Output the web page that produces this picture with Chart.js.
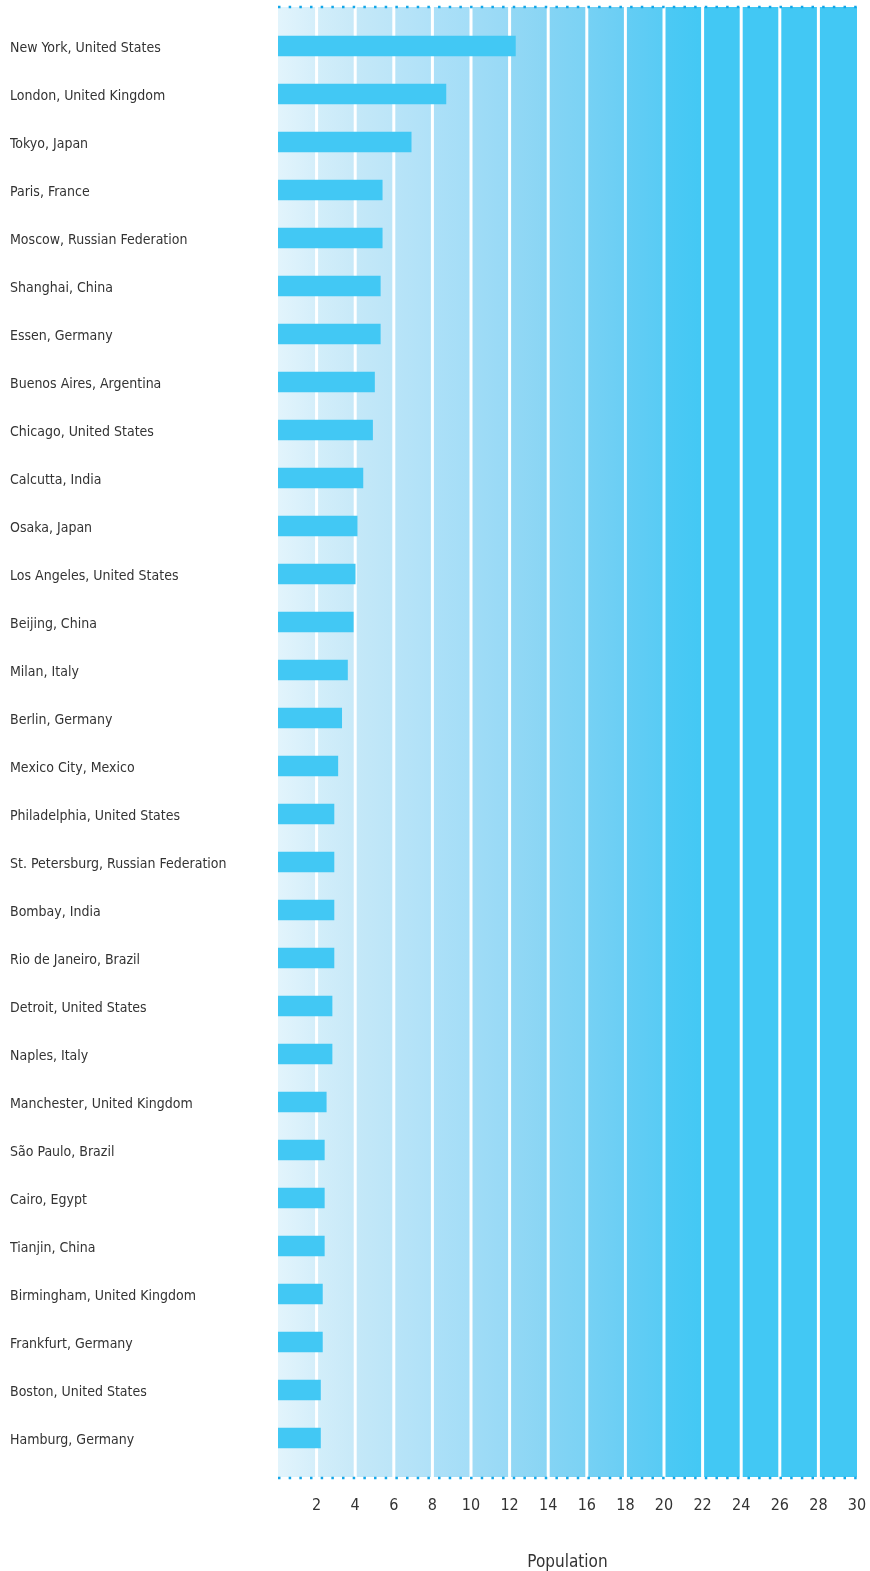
<!DOCTYPE html>
<html>
<head>
<meta charset="utf-8">
<script src="https://cdn.jsdelivr.net/npm/chart.js@4"></script>
<style>
  html, body { margin: 0; padding: 0; background: #fff; }
  #wrap { width: 870px; height: 1571px; position: relative; }
</style>
</head>
<body>
<div id="wrap"><canvas id="chart"></canvas></div>
<script>
// ----------------------------
// DATA
// ----------------------------
const cities = [
  'New York, United States', 'London, United Kingdom', 'Tokyo, Japan', 'Paris, France',
  'Moscow, Russian Federation', 'Shanghai, China', 'Essen, Germany', 'Buenos Aires, Argentina',
  'Chicago, United States', 'Calcutta, India', 'Osaka, Japan', 'Los Angeles, United States',
  'Beijing, China', 'Milan, Italy', 'Berlin, Germany', 'Mexico City, Mexico',
  'Philadelphia, United States', 'St. Petersburg, Russian Federation', 'Bombay, India',
  'Rio de Janeiro, Brazil', 'Detroit, United States', 'Naples, Italy',
  'Manchester, United Kingdom', 'São Paulo, Brazil', 'Cairo, Egypt', 'Tianjin, China',
  'Birmingham, United Kingdom', 'Frankfurt, Germany', 'Boston, United States', 'Hamburg, Germany'
];
const population = [
  12.3, 8.7, 6.9, 5.4, 5.4, 5.3, 5.3, 5.0, 4.9, 4.4,
  4.1, 4.0, 3.9, 3.6, 3.3, 3.1, 2.9, 2.9, 2.9, 2.9,
  2.8, 2.8, 2.5, 2.4, 2.4, 2.4, 2.3, 2.3, 2.2, 2.2
];
const xTicks = [2, 4, 6, 8, 10, 12, 14, 16, 18, 20, 22, 24, 26, 28, 30];
const axisTitle = 'Population';

// band colours, left -> right shade inside each 2-unit band
const bandColors = [
  ['#e2f4fc', '#d4eefa'], ['#d2eefa', '#c8e9f8'], ['#c4e8f8', '#bce5f8'],
  ['#b8e4f8', '#b0e1f8'], ['#ace0f8', '#a4ddf7'], ['#a0dcf6', '#98d9f6'],
  ['#93d8f5', '#89d5f4'], ['#84d4f4', '#7bd2f4'], ['#76d1f4', '#6acef4'],
  ['#64cdf4', '#58cbf4'], ['#4cc9f4', '#43c8f4'], ['#42c8f4', '#42c8f4'],
  ['#42c8f4', '#42c8f4'], ['#42c8f4', '#42c8f4'], ['#42c8f4', '#42c8f4']
];

const FONT = '"Liberation Sans Narrow", "DejaVu Sans Condensed", "Arial Narrow", sans-serif';
const EXTEND = 15;

// ----------------------------
// BACKGROUND PLUGIN
// ----------------------------
const bandsPlugin = {
  id: 'bands',
  beforeDatasetsDraw(chart) {
    const { ctx, chartArea, scales } = chart;
    const x = scales.x;
    const top = chartArea.top - EXTEND;
    const bottom = chartArea.bottom + EXTEND;
    ctx.save();
    bandColors.forEach((c, i) => {
      const x0 = x.getPixelForValue(i * 2);
      const x1 = x.getPixelForValue(i * 2 + 2);
      const g = ctx.createLinearGradient(x0, 0, x1, 0);
      g.addColorStop(0, c[0]);
      g.addColorStop(1, c[1]);
      ctx.fillStyle = g;
      ctx.fillRect(x0, top, x1 - x0, bottom - top);
    });
    // white separators
    ctx.strokeStyle = '#ffffff';
    ctx.lineWidth = 3;
    xTicks.slice(0, -1).forEach(v => {
      const px = x.getPixelForValue(v);
      ctx.beginPath();
      ctx.moveTo(px, top);
      ctx.lineTo(px, bottom);
      ctx.stroke();
    });
    // dotted top / bottom lines
    ctx.strokeStyle = '#12a6e8';
    ctx.lineWidth = 2.5;
    ctx.setLineDash([2.5, 8.17]);
    [top, bottom + 1].forEach(y => {
      ctx.beginPath();
      ctx.moveTo(chartArea.left, y);
      ctx.lineTo(chartArea.right, y);
      ctx.stroke();
    });
    ctx.restore();
  }
};

// ----------------------------
// CHART
// ----------------------------
new Chart(document.getElementById('chart').getContext('2d'), {
  type: 'bar',
  data: {
    labels: cities,
    datasets: [{
      data: population,
      backgroundColor: '#42c8f4',
      borderWidth: 0,
      barThickness: 20
    }]
  },
  options: {
    indexAxis: 'y',
    responsive: true,
    maintainAspectRatio: false,
    animation: false,
    layout: { padding: { left: 10, right: 13, top: 22, bottom: 0 } },
    plugins: { legend: { display: false }, tooltip: { enabled: false } },
    scales: {
      x: {
        type: 'linear',
        min: 0,
        max: 30,
        afterBuildTicks: (scale) => { scale.ticks = xTicks.map(v => ({ value: v })); },
        afterFit: (scale) => {
          scale.height = 109;
          scale.paddingLeft = 0;
          scale.paddingRight = 0;
        },
        grid: { display: false, drawTicks: false },
        border: { display: false },
        ticks: {
          padding: 34,
          color: '#333333',
          font: { family: FONT, size: 16 }
        },
        title: {
          display: true,
          text: axisTitle,
          color: '#333333',
          padding: { top: 0, bottom: 3 },
          font: { family: FONT, size: 17, lineHeight: 0.6 }
        }
      },
      y: {
        afterFit: (scale) => { scale.width = 268; },
        grid: { display: false, drawTicks: false },
        border: { display: false },
        ticks: {
          crossAlign: 'far',
          labelOffset: 2,
          color: '#333333',
          font: { family: FONT, size: 14 }
        }
      }
    }
  },
  plugins: [bandsPlugin]
});
</script>
</body>
</html>
